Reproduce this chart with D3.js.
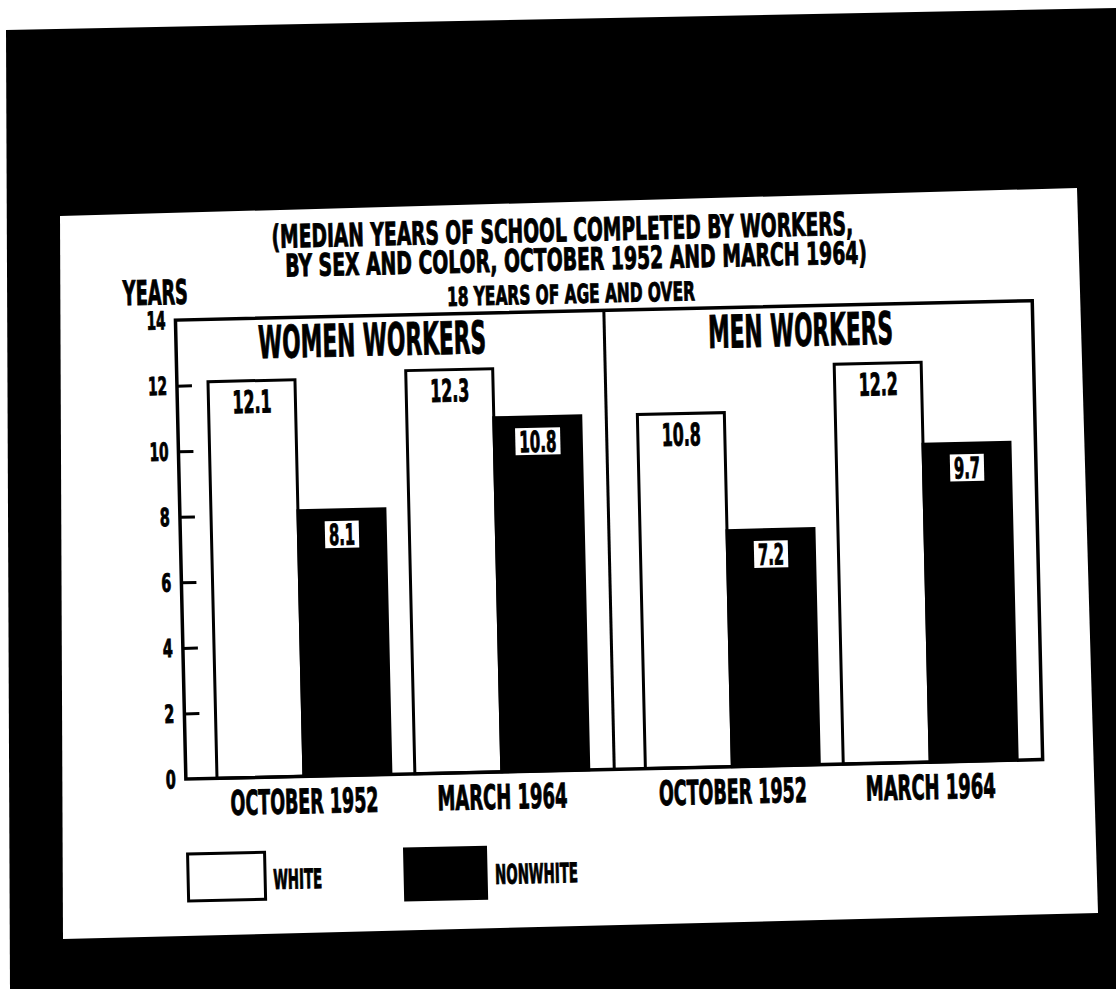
<!DOCTYPE html>
<html>
<head>
<meta charset="utf-8">
<script src="https://cdn.jsdelivr.net/npm/d3@7"></script>
<style>
  html, body { margin: 0; padding: 0; background: #fff; }
  svg { display: block; }
  text { font-family: "Liberation Sans Narrow", "DejaVu Sans Condensed", sans-serif; font-weight: 700; fill: #000; stroke: #000; stroke-width: 0.9; }
</style>
</head>
<body>
<svg id="chart" width="1116" height="989"></svg>
<script>
// ---------- data ----------
const panels = ["WOMEN WORKERS", "MEN WORKERS"];
const periods = ["OCTOBER 1952", "MARCH 1964"];
const seriesNames = ["WHITE", "NONWHITE"];
const womenWhite = [12.1, 12.3];
const womenNonwhite = [8.1, 10.8];
const menWhite = [10.8, 12.2];
const menNonwhite = [7.2, 9.7];
const yTicks = [0, 2, 4, 6, 8, 10, 12, 14];
const titleLines = ["(MEDIAN YEARS OF SCHOOL COMPLETED BY WORKERS,", "BY SEX AND COLOR, OCTOBER 1952 AND MARCH 1964)"];
const subTitle = "18 YEARS OF AGE AND OVER";
const yAxisTitle = "YEARS";

const panelValues = {
  "WOMEN WORKERS": { "WHITE": womenWhite, "NONWHITE": womenNonwhite },
  "MEN WORKERS": { "WHITE": menWhite, "NONWHITE": menNonwhite }
};
const rows = [];
panels.forEach(p => periods.forEach((per, j) => seriesNames.forEach(s => {
  rows.push({ panel: p, period: per, series: s, value: panelValues[p][s][j] });
})));

// ---------- layout ----------
const svg = d3.select("#chart");
const W = 1116, H = 989;

// scanned page: black surround with white card
svg.append("rect").attr("x", 0).attr("y", 0).attr("width", W).attr("height", H).attr("fill", "#fff");
svg.append("polygon").attr("points", "6,30 1116,8 1116,989 10,989").attr("fill", "#000");
svg.append("polygon").attr("points", "60,216 1077,188 1098,913 63,939").attr("fill", "#fff");

const g = svg.append("g").attr("transform", "rotate(-1.3,580,560)");

const frame = { left: 181, right: 1038, top: 311, bottom: 770 };
const y = d3.scaleLinear().domain([0, 14]).range([frame.bottom, frame.top]);
const xPanel = d3.scaleBand().domain(panels).range([frame.left, frame.right]).padding(0);
const xPeriod = d3.scaleBand().domain(periods).range([0, xPanel.bandwidth()])
  .paddingInner(0.121).paddingOuter(0.143).align(0.55);
const xSeries = d3.scaleBand().domain(seriesNames).range([0, xPeriod.bandwidth()]).padding(0);

// text drawn at a natural size, then squeezed horizontally to the width seen in the reference
function txt(parent, s, x, yy, size, width, anchor) {
  const gg = parent.append("g").attr("transform", `translate(${x},${yy})`);
  const t = gg.append("text").attr("x", 0).attr("y", 0)
    .attr("font-size", size).attr("text-anchor", anchor || "start").text(s);
  if (width) {
    const nat = t.node().getComputedTextLength();
    if (nat > 0) gg.attr("transform", `translate(${x},${yy}) scale(${(width / nat).toFixed(4)},1)`);
  }
  return t;
}
function numW(s) { let w = 0; for (const c of s) w += (c === ".") ? 6 : 11; return w; }

// titles
txt(g, titleLines[0], 279, 241, 32, 582);
txt(g, titleLines[1], 292, 270, 31, 582);
txt(g, yAxisTitle, 129, 295, 34, 65);
txt(g, subTitle, 453, 303, 26, 248);

// bars
const xOf = d => xPanel(d.panel) + xPeriod(d.period) + xSeries(d.series);
g.selectAll("rect.bar").data(rows).join("rect")
  .attr("class", "bar")
  .attr("x", xOf)
  .attr("y", d => y(d.value))
  .attr("width", xSeries.bandwidth())
  .attr("height", d => y(0) - y(d.value))
  .attr("fill", d => d.series === "WHITE" ? "#fff" : "#000")
  .attr("stroke", "#000")
  .attr("stroke-width", 3);

// frame and divider
g.append("rect").attr("x", frame.left).attr("y", frame.top)
  .attr("width", frame.right - frame.left).attr("height", frame.bottom - frame.top)
  .attr("fill", "none").attr("stroke", "#000").attr("stroke-width", 3.5);
g.append("line").attr("x1", xPanel(panels[1])).attr("x2", xPanel(panels[1]))
  .attr("y1", frame.top).attr("y2", frame.bottom).attr("stroke", "#000").attr("stroke-width", 3);

// panel titles
const panelTitleW = { "WOMEN WORKERS": 228, "MEN WORKERS": 185 };
panels.forEach(p => {
  txt(g, p, xPanel(p) + xPanel.bandwidth() / 2 - 18, 351, 45, panelTitleW[p], "middle");
});

// y axis ticks (inward) and labels
const yAxis = d3.axisRight(y).tickValues(yTicks.filter(v => v > 0 && v < 14)).tickSize(15).tickFormat("");
const ya = g.append("g").attr("transform", `translate(${frame.left},0)`).call(yAxis);
ya.select(".domain").remove();
ya.selectAll("line").attr("stroke", "#000").attr("stroke-width", 3);
yTicks.forEach(v => {
  const s = String(v);
  txt(g, s, 171, y(v) + 9, 25, s.length === 1 ? 10 : 19, "end");
});

// x labels
const xLabW = { "OCTOBER 1952": 148, "MARCH 1964": 130 };
panels.forEach(p => periods.forEach(per => {
  txt(g, per, xPanel(p) + xPeriod(per) + xPeriod.bandwidth() / 2, 807, 34, xLabW[per], "middle");
}));

// value labels
rows.forEach(d => {
  const cx = xOf(d) + xSeries.bandwidth() / 2;
  const s = d.value.toFixed(1);
  const w = numW(s);
  if (d.series === "WHITE") {
    txt(g, s, cx, y(d.value) + 32, 31, w, "middle");
  } else {
    const top = y(d.value) + 11;
    g.append("rect").attr("x", cx - w / 2 - 3).attr("y", top).attr("width", w + 6).attr("height", 27)
      .attr("fill", "#fff");
    txt(g, s, cx, top + 24, 29, w - 2, "middle");
  }
});

// legend
const legend = [
  { name: seriesNames[0], bx: 181, bw: 77, bh: 47, tx: 266, tw: 49 },
  { name: seriesNames[1], bx: 398, bw: 81, bh: 51, tx: 488, tw: 83 }
];
legend.forEach(l => {
  g.append("rect").attr("x", l.bx).attr("y", 845).attr("width", l.bw).attr("height", l.bh)
    .attr("fill", l.name === "WHITE" ? "#fff" : "#000").attr("stroke", "#000").attr("stroke-width", 3);
  txt(g, l.name, l.tx, 882, 27, l.tw);
});
</script>
</body>
</html>
